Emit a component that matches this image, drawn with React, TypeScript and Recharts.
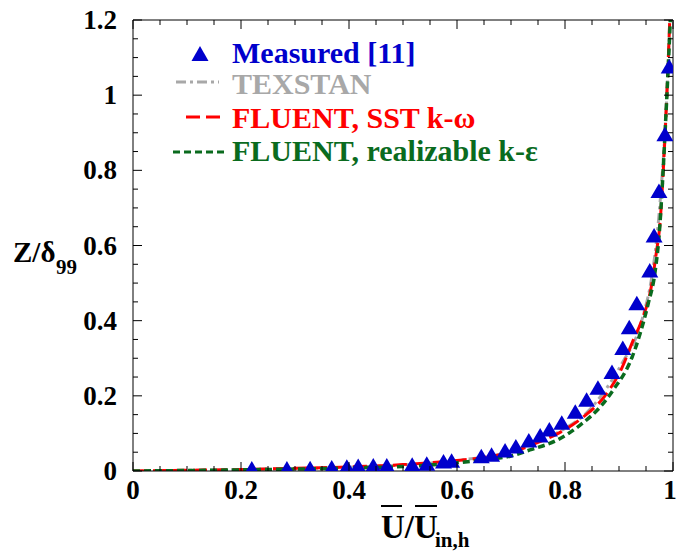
import React from 'react';
import { ComposedChart, Line, Scatter, XAxis, YAxis } from 'recharts';

// measured velocity profile (triangles)
const measured = [
  { x: 0.22, y: 0.005 }, { x: 0.285, y: 0.005 }, { x: 0.328, y: 0.006 }, { x: 0.368, y: 0.008 },
  { x: 0.396, y: 0.01 }, { x: 0.417, y: 0.012 }, { x: 0.445, y: 0.013 }, { x: 0.47, y: 0.013 },
  { x: 0.517, y: 0.015 }, { x: 0.544, y: 0.018 }, { x: 0.575, y: 0.024 }, { x: 0.59, y: 0.026 },
  { x: 0.645, y: 0.038 }, { x: 0.664, y: 0.042 }, { x: 0.689, y: 0.053 }, { x: 0.709, y: 0.064 },
  { x: 0.733, y: 0.08 }, { x: 0.754, y: 0.093 }, { x: 0.771, y: 0.109 }, { x: 0.794, y: 0.127 },
  { x: 0.819, y: 0.156 }, { x: 0.84, y: 0.188 }, { x: 0.861, y: 0.22 }, { x: 0.887, y: 0.262 },
  { x: 0.907, y: 0.326 }, { x: 0.919, y: 0.381 }, { x: 0.933, y: 0.445 }, { x: 0.957, y: 0.532 },
  { x: 0.965, y: 0.625 }, { x: 0.974, y: 0.744 }, { x: 0.985, y: 0.895 }, { x: 0.993, y: 1.075 },
];

const texstan = [
  { x: 0, y: 0 }, { x: 0.2, y: 0.004 }, { x: 0.4, y: 0.01 }, { x: 0.5, y: 0.016 }, { x: 0.6, y: 0.028 },
  { x: 0.7, y: 0.052 }, { x: 0.75, y: 0.078 }, { x: 0.796, y: 0.11 }, { x: 0.84, y: 0.155 },
  { x: 0.883, y: 0.233 }, { x: 0.911, y: 0.3 }, { x: 0.933, y: 0.36 }, { x: 0.946, y: 0.42 },
  { x: 0.96, y: 0.51 }, { x: 0.97, y: 0.62 }, { x: 0.978, y: 0.75 }, { x: 0.985, y: 0.9 },
  { x: 0.99, y: 1.05 }, { x: 0.994, y: 1.2 },
];

const sst = [
  { x: 0, y: 0 }, { x: 0.1, y: 0.002 }, { x: 0.2, y: 0.004 }, { x: 0.3, y: 0.007 }, { x: 0.4, y: 0.011 },
  { x: 0.5, y: 0.017 }, { x: 0.6, y: 0.028 }, { x: 0.65, y: 0.036 }, { x: 0.7, y: 0.05 },
  { x: 0.75, y: 0.076 }, { x: 0.79, y: 0.102 }, { x: 0.833, y: 0.143 }, { x: 0.874, y: 0.2 },
  { x: 0.905, y: 0.273 }, { x: 0.926, y: 0.347 }, { x: 0.942, y: 0.4 }, { x: 0.961, y: 0.5 },
  { x: 0.969, y: 0.58 }, { x: 0.976, y: 0.66 }, { x: 0.982, y: 0.8 }, { x: 0.988, y: 0.98 },
  { x: 0.994, y: 1.2 },
];

const realizable = [
  { x: 0, y: 0 }, { x: 0.2, y: 0.003 }, { x: 0.4, y: 0.008 }, { x: 0.5, y: 0.012 }, { x: 0.6, y: 0.022 },
  { x: 0.65, y: 0.03 }, { x: 0.7, y: 0.04 }, { x: 0.735, y: 0.056 }, { x: 0.785, y: 0.082 },
  { x: 0.828, y: 0.122 }, { x: 0.868, y: 0.175 }, { x: 0.889, y: 0.215 }, { x: 0.924, y: 0.302 },
  { x: 0.939, y: 0.365 }, { x: 0.954, y: 0.445 }, { x: 0.967, y: 0.532 }, { x: 0.975, y: 0.64 },
  { x: 0.981, y: 0.78 }, { x: 0.987, y: 0.95 }, { x: 0.992, y: 1.1 }, { x: 0.995, y: 1.2 },
];

const xTicks = [0, 0.05, 0.1, 0.15, 0.2, 0.25, 0.3, 0.35, 0.4, 0.45, 0.5, 0.55, 0.6, 0.65, 0.7, 0.75, 0.8, 0.85, 0.9, 0.95, 1];
const yTicks = [0, 0.05, 0.1, 0.15, 0.2, 0.25, 0.3, 0.35, 0.4, 0.45, 0.5, 0.55, 0.6, 0.65, 0.7, 0.75, 0.8, 0.85, 0.9, 0.95, 1, 1.05, 1.1, 1.15, 1.2];

const FONT = 'Liberation Serif, Times New Roman, serif';
const BLUE = '#0000cc';
const GRAY = '#a8a8a8';
const RED = '#ff0000';
const GREEN = '#0a6b1e';

const txt = (size: number, fill: string) => ({
  style: { fontFamily: FONT, fontWeight: 700, fontSize: size },
  fill,
});

const isMajor = (v: number) => Math.abs(v * 5 - Math.round(v * 5)) < 1e-6;

const makeTick = (side: 'bottom' | 'top' | 'left' | 'right') => (props: any) => {
  const { x, y, payload } = props;
  const v = payload.value;
  const len = isMajor(v) ? 9 : 5;
  let line;
  if (side === 'bottom') line = <line x1={x} y1={y} x2={x} y2={y - len} stroke="#000" />;
  else if (side === 'top') line = <line x1={x} y1={y} x2={x} y2={y + len} stroke="#000" />;
  else if (side === 'left') line = <line x1={x} y1={y} x2={x + len} y2={y} stroke="#000" />;
  else line = <line x1={x} y1={y} x2={x - len} y2={y} stroke="#000" />;
  let label = null;
  if (isMajor(v) && side === 'bottom') {
    // last label sits against the right edge, nudge it in
    const lx = v === 1 ? x - 3 : x;
    label = (
      <text x={lx} y={y + 28} textAnchor="middle" {...txt(27, '#000')}>
        {String(v)}
      </text>
    );
  }
  if (isMajor(v) && side === 'left') {
    label = (
      <text x={x - 16} y={y + 9} textAnchor="end" {...txt(27, '#000')}>
        {String(v)}
      </text>
    );
  }
  return (
    <g>
      {line}
      {label}
    </g>
  );
};

const Triangle = (props: any) => {
  const { cx, cy } = props;
  return <polygon points={`${cx},${cy - 8} ${cx - 8.5},${cy + 6.5} ${cx + 8.5},${cy + 6.5}`} fill={BLUE} />;
};

const App: React.FC = () => {
  return (
    <div style={{ position: 'absolute', left: 0, top: 0, width: 678, height: 552, background: '#fff' }}>
      <ComposedChart width={678} height={552} margin={{ top: 19, right: 4, bottom: 41, left: 73 }}>
        <XAxis
          xAxisId="b"
          dataKey="x"
          type="number"
          domain={[0, 1]}
          ticks={xTicks}
          interval={0}
          tickSize={0}
          tickMargin={0}
          height={40}
          stroke="#000"
          tick={makeTick('bottom')}
          allowDataOverflow
        />
        <XAxis
          xAxisId="t"
          orientation="top"
          dataKey="x"
          type="number"
          domain={[0, 1]}
          ticks={xTicks}
          interval={0}
          tickSize={0}
          tickMargin={0}
          height={1}
          stroke="#000"
          tick={makeTick('top')}
          allowDataOverflow
        />
        <YAxis
          yAxisId="l"
          dataKey="y"
          type="number"
          domain={[0, 1.2]}
          ticks={yTicks}
          interval={0}
          tickSize={0}
          tickMargin={0}
          width={60}
          stroke="#000"
          tick={makeTick('left')}
          allowDataOverflow
        />
        <YAxis
          yAxisId="r"
          orientation="right"
          dataKey="y"
          type="number"
          domain={[0, 1.2]}
          ticks={yTicks}
          interval={0}
          tickSize={0}
          tickMargin={0}
          width={1}
          stroke="#000"
          tick={makeTick('right')}
          allowDataOverflow
        />
        <Line
          xAxisId="b" yAxisId="l" data={texstan} dataKey="y" type="monotone"
          stroke={GRAY} strokeWidth={3} strokeDasharray="10 4 3 4" dot={false} isAnimationActive={false}
        />
        <Line
          xAxisId="b" yAxisId="l" data={sst} dataKey="y" type="monotone"
          stroke={RED} strokeWidth={3} strokeDasharray="14 6" dot={false} isAnimationActive={false}
        />
        <Line
          xAxisId="b" yAxisId="l" data={realizable} dataKey="y" type="monotone"
          stroke={GREEN} strokeWidth={3.5} strokeDasharray="7 4" dot={false} isAnimationActive={false}
        />
        <Scatter
          xAxisId="b" yAxisId="l" data={measured} dataKey="y" shape={<Triangle />} isAnimationActive={false}
        />
      </ComposedChart>
      <svg width={678} height={552} style={{ position: 'absolute', left: 0, top: 0, pointerEvents: 'none' }}>
        {/* legend */}
        <polygon points="200,46 191.5,61 208.5,61" fill={BLUE} />
        <text x={232} y={63} {...txt(30, BLUE)}>Measured [11]</text>
        <line x1={176} y1={82} x2={219} y2={82} stroke={GRAY} strokeWidth={3} strokeDasharray="10 4 3 4" />
        <text x={232} y={94} {...txt(30, GRAY)}>TEXSTAN</text>
        <line x1={186} y1={117} x2={225} y2={117} stroke={RED} strokeWidth={3} strokeDasharray="14 6" />
        <text x={232} y={128} {...txt(30, RED)}>FLUENT, SST k-ω</text>
        <line x1={173} y1={152} x2={228} y2={152} stroke={GREEN} strokeWidth={3} strokeDasharray="7 4" />
        <text x={232} y={161} {...txt(30, GREEN)}>FLUENT, realizable k-ε</text>
        {/* y title */}
        <text x={13} y={262} {...txt(29, '#000')}>Z/δ</text>
        <text x={56} y={274} {...txt(21, '#000')}>99</text>
        {/* x title */}
        <text x={381} y={538} {...txt(33, '#000')}>U/U</text>
        <line x1={381} y1={506} x2={402} y2={506} stroke="#000" strokeWidth={2} />
        <line x1={415} y1={506} x2={437} y2={506} stroke="#000" strokeWidth={2} />
        <text x={435} y={547} {...txt(21, '#000')}>in,h</text>
      </svg>
    </div>
  );
};

export default App;
